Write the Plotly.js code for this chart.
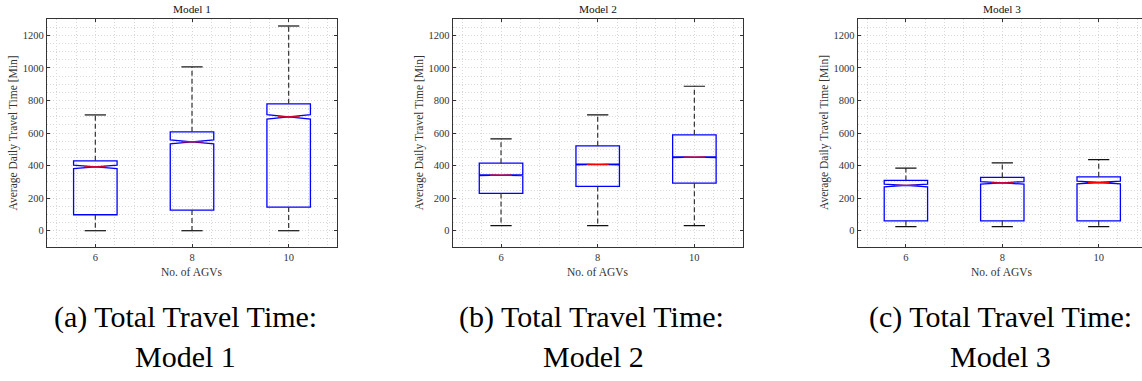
<!DOCTYPE html>
<html>
<head>
<meta charset="utf-8">
<script src="https://cdn.plot.ly/plotly-3.0.1.min.js"></script>
<style>html,body{margin:0;padding:0;background:#fff;}#chart{width:1142px;height:381px;}</style>
</head>
<body>
<div id="chart"></div>
<script>
// ---- data ----
const categories = [6, 8, 10];               // No. of AGVs
const yTickVals = [0, 200, 400, 600, 800, 1000, 1200];

const m1Upper  = [711, 1006, 1257];
const m1Q3     = [429, 607, 779];
const m1Median = [392, 546, 699];
const m1Q1     = [98, 127, 145];
const m1Lower  = [0, 0, 0];
const m1Notch  = [10, 12, 13];

const m2Upper  = [564, 711, 887];
const m2Q3     = [415, 521, 589];
const m2Median = [341, 407, 452];
const m2Q1     = [229, 272, 292];
const m2Lower  = [31, 31, 31];
const m2Notch  = [3, 3, 3];

const m3Upper  = [384, 417, 437];
const m3Q3     = [309, 327, 331];
const m3Median = [278, 294, 296];
const m3Q1     = [61, 61, 61];
const m3Lower  = [25, 25, 25];
const m3Notch  = [8, 8, 8];

const panelTitles = ['Model 1', 'Model 2', 'Model 3'];
const captionLine1 = ['(a) Total Travel Time:', '(b) Total Travel Time:', '(c) Total Travel Time:'];
const captionLine2 = ['Model 1', 'Model 2', 'Model 3'];
const yTitle = 'Average Daily Travel Time [Min]';
const xTitle = 'No. of AGVs';

// ---- layout geometry ----
const W = 1142, H = 381;
const BOXW = 0.9, CAPHALF = 0.22, NOTCHW = 0.5;
const panels = [
  {up: m1Upper, q3: m1Q3, med: m1Median, q1: m1Q1, lo: m1Lower, notch: m1Notch, left: 47, right: 337, range: [5, 11], mirrorY: 'ticks'},
  {up: m2Upper, q3: m2Q3, med: m2Median, q1: m2Q1, lo: m2Lower, notch: m2Notch, left: 452.7, right: 742.7, range: [5, 11], mirrorY: 'ticks'},
  {up: m3Upper, q3: m3Q3, med: m3Median, q1: m3Q1, lo: m3Lower, notch: m3Notch, left: 857.7, right: 1142, range: [5, 5 + (1142 - 857.7) / 48.2], mirrorY: false}
];
const plotTop = 19, plotBottom = 247;
const yDom = [1 - plotBottom / H, 1 - plotTop / H];

const serif = 'Liberation Serif';
const gridCol = '#d8d8d8';
const axisCol = '#333333';

const traces = [];
const layout = {
  width: W, height: H,
  margin: {l: 0, r: 0, t: 0, b: 0},
  paper_bgcolor: '#ffffff', plot_bgcolor: '#ffffff',
  showlegend: false,
  font: {family: serif, color: '#333'},
  annotations: []
};

panels.forEach((p, i) => {
  const n = i === 0 ? '' : String(i + 1);
  const xa = 'x' + n, ya = 'y' + n;

  // notched box outline (blue); whiskers drawn separately in black dashes
  traces.push({
    type: 'box', xaxis: xa, yaxis: ya,
    x: categories, q1: p.q1, median: p.med, q3: p.q3,
    lowerfence: p.q1, upperfence: p.q3, notchspan: p.notch,
    notched: true, notchwidth: NOTCHW, width: BOXW, whiskerwidth: 0,
    boxpoints: false, fillcolor: 'rgba(0,0,0,0)',
    line: {color: '#0000ff', width: 1.3}, hoverinfo: 'skip'
  });

  const wx = [], wy = [];
  categories.forEach((c, k) => {
    wx.push(c, c, null, c, c, null);
    wy.push(p.q3[k], p.up[k], null, p.q1[k], p.lo[k], null);
  });
  traces.push({type: 'scatter', mode: 'lines', xaxis: xa, yaxis: ya, x: wx, y: wy,
    line: {color: '#333333', width: 1.2, dash: '5px,3px'}, hoverinfo: 'skip'});

  const cx = [], cy = [];
  categories.forEach((c, k) => {
    cx.push(c - CAPHALF, c + CAPHALF, null, c - CAPHALF, c + CAPHALF, null);
    cy.push(p.up[k], p.up[k], null, p.lo[k], p.lo[k], null);
  });
  traces.push({type: 'scatter', mode: 'lines', xaxis: xa, yaxis: ya, x: cx, y: cy,
    line: {color: '#111111', width: 1.2}, hoverinfo: 'skip'});

  const mx = [], my = [];
  const mh = BOXW / 2 * (1 - NOTCHW);
  categories.forEach((c, k) => {
    mx.push(c - mh, c + mh, null);
    my.push(p.med[k], p.med[k], null);
  });
  traces.push({type: 'scatter', mode: 'lines', xaxis: xa, yaxis: ya, x: mx, y: my,
    line: {color: '#ff0000', width: 1.3}, hoverinfo: 'skip'});

  layout['xaxis' + n] = {
    domain: [p.left / W, p.right / W], range: p.range, anchor: ya,
    tickmode: 'array', tickvals: categories, ticktext: categories.map(String),
    ticks: 'inside', ticklen: 3, tickcolor: axisCol, tickwidth: 1,
    showline: true, linecolor: axisCol, linewidth: 1.2, mirror: 'ticks',
    showgrid: true, gridcolor: gridCol, griddash: '1px,2px', gridwidth: 1,
    minor: {tick0: 6, dtick: 0.4, showgrid: true, gridcolor: gridCol, griddash: '1px,2px', gridwidth: 1, ticks: ''},
    zeroline: false, fixedrange: true,
    tickfont: {family: serif, size: 10.5, color: '#333'}
  };
  layout['yaxis' + n] = {
    domain: yDom, range: [-100, 1300], anchor: xa,
    tickmode: 'array', tickvals: yTickVals, ticktext: yTickVals.map(String),
    ticks: 'inside', ticklen: 3, tickcolor: axisCol, tickwidth: 1,
    showline: true, linecolor: axisCol, linewidth: 1.2, mirror: p.mirrorY,
    showgrid: true, gridcolor: gridCol, griddash: '1px,2px', gridwidth: 1,
    minor: {tick0: 0, dtick: 50, showgrid: true, gridcolor: gridCol, griddash: '1px,2px', gridwidth: 1, ticks: ''},
    zeroline: false, fixedrange: true,
    tickfont: {family: serif, size: 10.5, color: '#333'}
  };

  const cxPx = [192, 597.7, 1002.3][i];
  const yTitleX = [12.5, 419.3, 824][i];
  const capX = [185, 591, 1000][i];
  const cap2X = [185, 593, 1000][i];

  layout.annotations.push(
    {xref: 'paper', yref: 'paper', x: cxPx / W, y: 1 - 9 / H, text: panelTitles[i], showarrow: false,
     xanchor: 'center', yanchor: 'middle', font: {family: serif, size: 11.3, color: '#111'}},
    {xref: 'paper', yref: 'paper', x: yTitleX / W, y: 1 - 133 / H, text: yTitle, showarrow: false, textangle: -90,
     xanchor: 'center', yanchor: 'middle', font: {family: serif, size: 11.5, color: '#333'}},
    {xref: 'paper', yref: 'paper', x: cxPx / W, y: 1 - 271.5 / H, text: xTitle, showarrow: false,
     xanchor: 'center', yanchor: 'middle', font: {family: serif, size: 11.5, color: '#333'}},
    {xref: 'paper', yref: 'paper', x: capX / W, y: 1 - 317 / H, text: captionLine1[i], showarrow: false,
     xanchor: 'center', yanchor: 'middle', font: {family: serif, size: 30, color: '#000'}},
    {xref: 'paper', yref: 'paper', x: cap2X / W, y: 1 - 356 / H, text: captionLine2[i], showarrow: false,
     xanchor: 'center', yanchor: 'middle', font: {family: serif, size: 30, color: '#000'}}
  );
});

Plotly.newPlot('chart', traces, layout, {staticPlot: true, displayModeBar: false});
</script>
</body>
</html>
